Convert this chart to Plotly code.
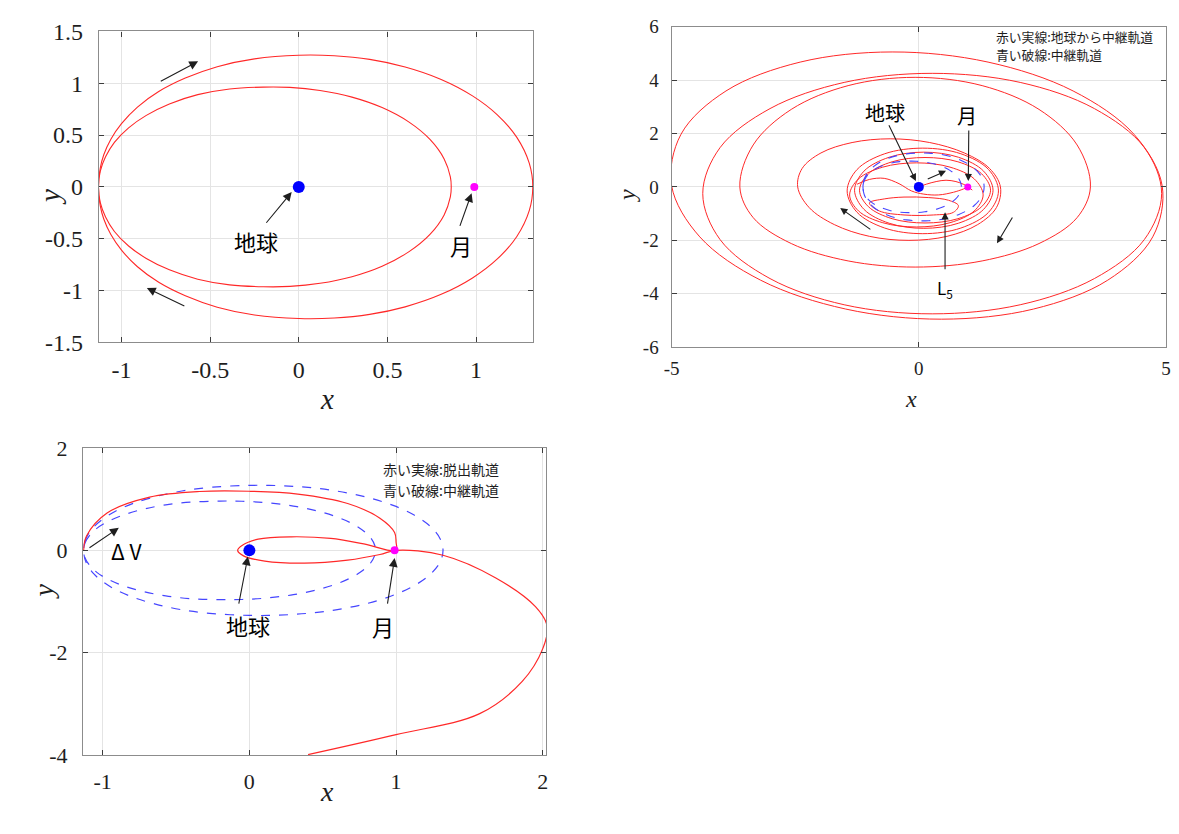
import plotly.graph_objects as go

# ---------------- data ----------------
# relay orbit (two loops), used in all panels
RELAY_OUT_X = [-1.13, -1.12, -1.10, -1.06, -1.00, -0.91, -0.79, -0.64, -0.46, -0.25, 0.00, 0.20, 0.40, 0.60,
               0.80, 0.98, 1.12, 1.23, 1.30, 1.32,
               1.30, 1.23, 1.12, 0.98, 0.80, 0.60, 0.40, 0.20, 0.00, -0.25, -0.46, -0.64, -0.79, -0.91,
               -1.00, -1.06, -1.10, -1.12, -1.13]
RELAY_OUT_Y = [0.00, 0.18, 0.31, 0.46, 0.61, 0.77, 0.92, 1.05, 1.16, 1.235, 1.27, 1.265, 1.23, 1.157,
               1.039, 0.878, 0.695, 0.478, 0.229, 0.00,
               -0.229, -0.478, -0.695, -0.878, -1.039, -1.157, -1.23, -1.265, -1.27, -1.235, -1.16, -1.05, -0.92,
               -0.77, -0.61, -0.46, -0.31, -0.18, 0.00]
RELAY_IN_X = [-1.13, -1.12, -1.09, -1.04, -0.96, -0.86, -0.73, -0.57, -0.39, -0.20, -0.05, 0.12, 0.30, 0.47,
              0.62, 0.74, 0.82, 0.855, 0.86,
              0.855, 0.82, 0.74, 0.62, 0.47, 0.30, 0.12, -0.05, -0.20, -0.39, -0.57, -0.73, -0.86, -0.96,
              -1.04, -1.09, -1.12, -1.13]
RELAY_IN_Y = [0.00, 0.15, 0.29, 0.43, 0.57, 0.69, 0.80, 0.89, 0.945, 0.963, 0.96, 0.93, 0.866, 0.765,
              0.627, 0.458, 0.27, 0.096, 0.00,
              -0.096, -0.27, -0.458, -0.627, -0.765, -0.866, -0.93, -0.96, -0.963, -0.945, -0.89, -0.80, -0.69,
              -0.57, -0.43, -0.29, -0.15, 0.00]

EARTH = (0.0, 0.0)
MOON = (0.99, 0.0)

# top-right panel: transfer trajectory (outer revolutions)
TR_A_X = [4.92, 4.35, 3.12, 1.40, -0.54, -2.40, -3.90, -4.81, -5.00, -4.43, -3.20, -1.48, 0.46, 2.32, 3.82, 4.73, 4.92]
TR_A_Y = [0.05, 1.97, 3.59, 4.67, 5.05, 4.67, 3.59, 1.97, 0.05, -1.87, -3.49, -4.57, -4.95, -4.57, -3.49, -1.87, 0.05]
TR_B_X = [4.91, 4.56, 3.55, 2.05, 0.27, -1.51, -3.01, -4.02, -4.37, -4.02, -3.01, -1.51, 0.27, 2.05, 3.55, 4.56, 4.91]
TR_B_Y = [-0.25, 1.47, 2.93, 3.91, 4.25, 3.91, 2.93, 1.47, -0.25, -1.97, -3.43, -4.41, -4.75, -4.41, -3.43, -1.97, -0.25]
TR_C_X = [3.47, 3.20, 2.43, 1.28, -0.075, -1.43, -2.58, -3.35, -3.62, -3.35, -2.58, -1.43, -0.075, 1.28, 2.43, 3.20, 3.47]
TR_C_Y = [0.00, 1.57, 2.90, 3.79, 4.10, 3.79, 2.90, 1.57, 0.00, -1.15, -2.12, -2.77, -3.00, -2.77, -2.12, -1.15, 0.00]
TR_D_X = [1.65, 1.43, 0.92, 0.22, -0.58, -1.35, -1.98, -2.36, -2.45, -2.22, -1.71, -1.00, -0.20, 0.57, 1.19, 1.57, 1.65]
TR_D_Y = [0.00, 0.69, 1.27, 1.66, 1.80, 1.66, 1.27, 0.69, 0.00, -0.77, -1.41, -1.85, -2.00, -1.85, -1.41, -0.77, 0.00]
# loops close to the relay orbit
TR_T1_X = [1.61, 1.41, 0.85, 0.08, -0.69, -1.25, -1.45, -1.25, -0.69, 0.08, 0.85, 1.41, 1.61]
TR_T1_Y = [-0.15, 0.65, 1.24, 1.45, 1.24, 0.65, -0.15, -0.95, -1.54, -1.75, -1.54, -0.95, -0.15]
TR_T2_X = [1.50, 1.31, 0.80, 0.10, -0.60, -1.11, -1.30, -1.11, -0.60, 0.10, 0.80, 1.31, 1.50]
TR_T2_Y = [-0.125, 0.59, 1.11, 1.30, 1.11, 0.59, -0.125, -0.84, -1.36, -1.55, -1.36, -0.84, -0.125]
TR_T3_X = [1.30, 1.12, 0.63, -0.05, -0.73, -1.22, -1.40, -1.22, -0.73, -0.05, 0.63, 1.12, 1.30]
TR_T3_Y = [-0.30, 0.30, 0.74, 0.90, 0.74, 0.30, -0.30, -0.90, -1.34, -1.50, -1.34, -0.90, -0.30]
TR_T4_X = [1.45, 1.27, 0.79, 0.125, -0.54, -1.02, -1.20, -1.02, -0.54, 0.125, 0.79, 1.27, 1.45]
TR_T4_Y = [-0.125, 0.49, 0.94, 1.10, 0.94, 0.49, -0.125, -0.74, -1.19, -1.35, -1.19, -0.74, -0.125]
TR_W1_X = [0.00, 0.15, 0.35, 0.55, 0.75, 0.90, 1.00, 1.08]
TR_W1_Y = [0.00, 0.10, 0.20, 0.25, 0.20, 0.10, 0.00, -0.12]
TR_W2_X = [-1.25, -1.00, -0.70, -0.40, -0.15, 0.10, 0.40, 0.70, 0.90, 1.00]
TR_W2_Y = [0.10, 0.28, 0.32, 0.12, -0.15, -0.27, -0.30, -0.20, -0.08, 0.00]
TR_W3_X = [-1.00, -0.70, -0.30, 0.20, 0.60, 0.80, 0.70, 0.30, -0.30, -0.80, -1.00]
TR_W3_Y = [-0.60, -0.45, -0.38, -0.40, -0.50, -0.70, -0.95, -1.05, -1.05, -0.90, -0.60]

# bottom-left panel: escape trajectory
ESC_X = [-1.13, -1.11, -0.97, -0.68, -0.34, 0.0, 0.33, 0.67, 0.89, 0.99, 1.0, 1.0,
         0.78, 0.555, 0.285, 0.06, -0.05, -0.08, -0.04, 0.105, 0.375, 0.67, 0.89, 1.0,
         1.32, 1.68, 1.95, 2.03, 2.0, 1.86, 1.57, 1.0, 0.40]
ESC_Y = [0.0, 0.28, 0.73, 1.04, 1.15, 1.155, 1.10, 0.915, 0.63, 0.35, 0.16, 0.0,
         0.126, 0.233, 0.265, 0.22, 0.095, 0.0, -0.107, -0.21, -0.25, -0.19, -0.08, 0.0,
         -0.095, -0.54, -1.1, -1.48, -1.92, -2.56, -3.19, -3.6, -3.99]

TL_XTICKS = [-1, -0.5, 0, 0.5, 1]
TL_XTEXT = ["-1", "-0.5", "0", "0.5", "1"]
TL_YTICKS = [-1.5, -1, -0.5, 0, 0.5, 1, 1.5]
TL_YTEXT = ["-1.5", "-1", "-0.5", "0", "0.5", "1", "1.5"]
TR_XTICKS = [-5, 0, 5]
TR_XTEXT = ["-5", "0", "5"]
TR_YTICKS = [-6, -4, -2, 0, 2, 4, 6]
TR_YTEXT = ["-6", "-4", "-2", "0", "2", "4", "6"]
BL_XTICKS = [-1, 0, 1, 2]
BL_XTEXT = ["-1", "0", "1", "2"]
BL_YTICKS = [-4, -2, 0, 2]
BL_YTEXT = ["-4", "-2", "0", "2"]

# ---------------- figure ----------------
RED = "rgb(255,40,40)"
BLUE = "rgb(70,70,255)"
SERIF = "Liberation Serif, Times New Roman, DejaVu Serif, serif"
JP = "Noto Sans CJK JP"

fig = go.Figure()


def line(x, y, ax, color=RED, dash="solid", width=1.1):
    fig.add_trace(go.Scatter(x=x, y=y, mode="lines", xaxis="x" + ax, yaxis="y" + ax,
                             line=dict(color=color, width=width, dash=dash, shape="spline", smoothing=1.0),
                             hoverinfo="skip", showlegend=False))


def bodies(ax, es, ms):
    fig.add_trace(go.Scatter(x=[EARTH[0]], y=[EARTH[1]], mode="markers", xaxis="x" + ax, yaxis="y" + ax,
                             marker=dict(color="rgb(0,0,255)", size=es), showlegend=False))
    fig.add_trace(go.Scatter(x=[MOON[0]], y=[MOON[1]], mode="markers", xaxis="x" + ax, yaxis="y" + ax,
                             marker=dict(color="rgb(255,0,255)", size=ms), showlegend=False))


# top-left
line(RELAY_OUT_X, RELAY_OUT_Y, "")
line(RELAY_IN_X, RELAY_IN_Y, "")
bodies("", 12, 8)

# top-right
for xs, ys in [(TR_A_X, TR_A_Y), (TR_B_X, TR_B_Y), (TR_C_X, TR_C_Y), (TR_D_X, TR_D_Y),
               (TR_T1_X, TR_T1_Y), (TR_T2_X, TR_T2_Y), (TR_T3_X, TR_T3_Y), (TR_T4_X, TR_T4_Y),
               (TR_W1_X, TR_W1_Y), (TR_W2_X, TR_W2_Y), (TR_W3_X, TR_W3_Y)]:
    line(xs, ys, "2", width=1.0)
line(RELAY_OUT_X, RELAY_OUT_Y, "2", color=BLUE, dash="dash", width=1.1)
line(RELAY_IN_X, RELAY_IN_Y, "2", color=BLUE, dash="dash", width=1.1)
bodies("2", 10, 7)

# bottom-left
line(RELAY_OUT_X, RELAY_OUT_Y, "3", color=BLUE, dash="dash", width=1.2)
line(RELAY_IN_X, RELAY_IN_Y, "3", color=BLUE, dash="dash", width=1.2)
line(ESC_X, ESC_Y, "3", width=1.2)
bodies("3", 12, 8)


def axis(domain, rng, ticks, text, anchor, size, standoff):
    return dict(domain=domain, range=rng, tickvals=ticks, ticktext=text, anchor=anchor,
                showgrid=True, gridcolor="rgb(228,228,228)", gridwidth=1,
                zeroline=False, showline=True, linecolor="rgb(140,140,140)", linewidth=1.3,
                mirror="allticks", ticks="inside", ticklen=5, tickcolor="rgb(60,60,60)",
                ticklabelstandoff=standoff,
                tickfont=dict(family=SERIF, size=size, color="rgb(30,30,30)"))


layout = dict(
    width=1179, height=834, margin=dict(l=0, r=0, t=0, b=0),
    paper_bgcolor="white", plot_bgcolor="white",
    xaxis=axis([92 / 1179, 531 / 1179], [-1.127, 1.322], TL_XTICKS, TL_XTEXT, "y", 24, 6),
    yaxis=axis([1 - 340 / 834, 1 - 19 / 834], [-1.5, 1.5], TL_YTICKS, TL_YTEXT, "x", 24, 10),
    xaxis2=axis([671 / 1179, 1171 / 1179], [-5, 5], TR_XTICKS, TR_XTEXT, "y2", 19, 4),
    yaxis2=axis([1 - 345 / 834, 1 - 14 / 834], [-6, 6], TR_YTICKS, TR_YTEXT, "x2", 19, 8),
    xaxis3=axis([76 / 1179, 544 / 1179], [-1.133, 2.022], BL_XTICKS, BL_XTEXT, "y3", 22, 6),
    yaxis3=axis([1 - 766 / 834, 1 - 449 / 834], [-4, 2], BL_YTICKS, BL_YTEXT, "x3", 22, 10),
)
fig.update_layout(**layout)

ann = []


def arrow(ax_, tail, head, size=1.6):
    ann.append(dict(x=head[0], y=head[1], ax=tail[0], ay=tail[1], xref="x" + ax_, yref="y" + ax_,
                    axref="x" + ax_, ayref="y" + ax_, text="", showarrow=True, arrowhead=2,
                    arrowsize=size, arrowwidth=1.1, arrowcolor="rgb(30,30,30)"))


def label(ax_, pos, text, size, font=JP):
    ann.append(dict(x=pos[0], y=pos[1], xref="x" + ax_, yref="y" + ax_, text=text, showarrow=False,
                    font=dict(family=font, size=size, color="black")))


def title(px, py, text, size, angle=0):
    ann.append(dict(x=px / 1179, y=1 - py / 834, xref="paper", yref="paper", text=text, showarrow=False,
                    textangle=angle, font=dict(family=SERIF, size=size, color="rgb(30,30,30)")))


def note(px_left, py_center, text, size):
    ann.append(dict(x=px_left / 1179, y=1 - py_center / 834, xref="paper", yref="paper", xanchor="left",
                    yanchor="middle", showarrow=False, text=text, borderpad=0,
                    font=dict(family=JP, size=size, color="rgb(30,30,30)")))


# top-left annotations
arrow("", (-0.19, -0.36), (-0.04, -0.05))
arrow("", (0.906, -0.39), (0.975, -0.06))
arrow("", (-0.787, 1.012), (-0.568, 1.211))
arrow("", (-0.637, -1.155), (-0.857, -0.975))
label("", (-0.24, -0.52), "地球", 22)
label("", (0.915, -0.56), "月", 22)
title(313, 398, "<i>x</i>", 29)
title(25, 180, "<i>y</i>", 29, -90)

# top-right annotations
arrow("2", (-0.62, 2.36), (-0.06, 0.22), 1.3)
arrow("2", (1.01, 2.17), (1.0, 0.22), 1.3)
arrow("2", (0.53, -3.14), (0.53, -0.95), 1.3)
arrow("2", (0.15, 0.27), (0.55, 0.6), 1.3)
arrow("2", (-0.95, -1.63), (-1.59, -0.79), 1.3)
arrow("2", (1.91, -1.09), (1.58, -2.11), 1.3)
label("2", (-0.69, 2.78), "地球", 20)
label("2", (0.97, 2.68), "月", 20)
label("2", (0.52, -3.8), "L<sub>5</sub>", 17)
note(998, 24, "赤い実線:地球から中継軌道", 12.8)
note(998, 43, "青い破線:中継軌道", 12.8)
title(921, 398, "<i>x</i>", 24)
title(626, 180, "<i>y</i>", 24, -90)

# bottom-left annotations
arrow("3", (-0.074, -1.07), (-0.01, -0.12))
arrow("3", (0.94, -1.07), (0.99, -0.15))
arrow("3", (-1.10, 0.03), (-0.89, 0.44))
label("3", (-0.01, -1.45), "地球", 22)
label("3", (0.91, -1.47), "月", 22)
label("3", (-0.84, -0.02), "Δ V", 21)
note(378, 471, "赤い実線:脱出軌道", 14)
note(378, 492, "青い破線:中継軌道", 14)
title(313, 822, "<i>x</i>", 28)
title(18, 607, "<i>y</i>", 28, -90)

fig.update_layout(annotations=ann)
fig.write_html("out.html")
